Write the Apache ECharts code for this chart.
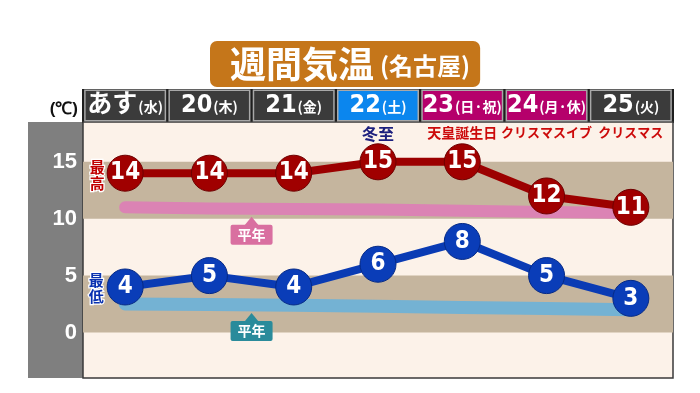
<!DOCTYPE html>
<html><head><meta charset="utf-8">
<script src="https://cdn.jsdelivr.net/npm/echarts@6/dist/echarts.min.js"></script>
<style>html,body{margin:0;padding:0;background:#fff}#c{width:700px;height:393px}</style>
</head><body><div id="c"></div>
<script>
const days = ['あす','20','21','22','23','24','25'];
const weekdays = ['水','木','金','土','日·祝','月·休','火'];
const events = ['','','','冬至','天皇誕生日','クリスマスイブ','クリスマス'];
const highs = [14,14,14,15,15,12,11];
const lows = [4,5,4,6,8,5,3];
const normalHighs = [11.0,10.9,10.85,10.8,10.7,10.6,10.5];
const normalLows = [2.5,2.45,2.4,2.3,2.2,2.1,2.0];
const yTicks = [0,5,10,15];
const bands = [[10,15],[0,5]];
const titleMain = '週間気温';
const titleSub = '(名古屋)';
const normalLabel = '平年';

const JP = "'Noto Sans CJK JP', sans-serif";
const NUM = "'Liberation Sans Narrow', 'DejaVu Sans Condensed', 'Noto Sans CJK JP', sans-serif";

function headerColor(w){
  if (w === '土') return '#0B86EE';
  if (/祝|休|日/.test(w)) return '#B5006B';
  return '#3B3B3B';
}
function eventColor(e){ return e === '冬至' ? '#1C1F7E' : '#CC0A0A'; }

const chart = echarts.init(document.getElementById('c'));
const G = {left:83, right:27, top:122, bottom:15};

const headerData = days.map((d,i)=>({
  value: d,
  textStyle: {backgroundColor: headerColor(weekdays[i])}
}));
const eventData = events.map(e=>({value:e, textStyle:{color:eventColor(e), fontSize: e==='冬至'?16:(/ク/.test(e)?13:14)}}));

const baseGraphic = [
  {type:'rect',shape:{x:28,y:G.top,width:55,height:393-G.top-G.bottom},style:{fill:'#7F7F7F'},z:-1},
  {type:'rect',shape:{x:82,y:89,width:700-G.right-82+1,height:34},style:{fill:'#1e1e1e'},z:-1}
];

chart.setOption({
  animation:false,
  backgroundColor:'#fff',
  title:{
    text:'{a|'+titleMain+'}{b|'+titleSub+'}',
    left:210, top:40,
    backgroundColor:'#C5761A', borderRadius:7,
    padding:[5,10,5,20],
    textStyle:{rich:{
      a:{color:'#fff',fontSize:36,fontWeight:'bold',fontFamily:JP,lineHeight:38},
      b:{color:'#fff',fontSize:24,fontWeight:'bold',fontFamily:JP,lineHeight:38,padding:[4,0,0,6]}
    }}
  },
  graphic:baseGraphic,
  grid:{left:G.left,right:G.right,top:G.top,bottom:G.bottom,show:true,backgroundColor:'#FCF2E9',borderColor:'#3a3a3a',borderWidth:1.5},
  xAxis:[
    {type:'category',position:'top',data:headerData,boundaryGap:true,
     axisLine:{show:false},axisTick:{show:false},
     axisLabel:{interval:0,margin:2,
       width:79,height:29,lineHeight:29,align:'center',
       borderColor:'#A8A8A8',borderWidth:1.5,
       formatter:(v,i)=>'{n|'+v+'}{s|('+weekdays[i]+')}',
       rich:{
         n:{color:'#fff',fontSize:25,fontWeight:'bold',fontFamily:NUM,lineHeight:29},
         s:{color:'#fff',fontSize:14,fontWeight:'bold',fontFamily:JP,lineHeight:29,padding:[3,0,0,1]}
       }
     }},
    {type:'category',position:'top',data:eventData,boundaryGap:true,
     axisLine:{show:false},axisTick:{show:false},
     axisLabel:{inside:true,interval:0,margin:4,fontWeight:'bold',fontFamily:JP,fontSize:14}}
  ],
  yAxis:{type:'value',min:-4,max:18.5,splitNumber:5,
    name:'(℃)',nameLocation:'end',nameGap:13,nameMoveOverlap:false,
    nameTextStyle:{color:'#111',fontSize:17,fontWeight:'bold',fontFamily:"'Liberation Sans', sans-serif",align:'right',verticalAlign:'middle',padding:[0,5,0,0]},
    axisLine:{show:false},axisTick:{show:false},splitLine:{show:false},
    axisLabel:{margin:6,color:'#fff',fontSize:22,fontWeight:'bold',fontFamily:"'Liberation Sans', sans-serif",
      showMinLabel:true,showMaxLabel:true,
      formatter:v=>yTicks.indexOf(v)>=0?String(v):''}
  },
  series:[
    {type:'line',data:[],z:0,silent:true,
     markArea:{silent:true,itemStyle:{color:'#C5B59E'},data:bands.map(b=>[{yAxis:b[0]},{yAxis:b[1]}])}},
    {type:'line',data:normalHighs,z:2,symbol:'none',silent:true,
     lineStyle:{color:'#DB83B4',width:12,cap:'round',join:'round'}},
    {type:'line',data:normalLows,z:2,symbol:'none',silent:true,
     lineStyle:{color:'#74B2D3',width:13,cap:'round',join:'round'}},
    {type:'line',data:highs,z:4,symbol:'circle',symbolSize:36,
     lineStyle:{color:'#9C0000',width:8},
     itemStyle:{color:'#A00000',borderColor:'#6E0000',borderWidth:1},
     label:{show:true,position:'inside',color:'#fff',fontSize:24,fontWeight:'bold',fontFamily:NUM},
     markPoint:{symbol:'circle',symbolSize:1,itemStyle:{color:'transparent'},
       label:{show:true,formatter:'最\n高',offset:[-28,2],color:'#C00000',fontSize:15,lineHeight:16,fontWeight:'bold',fontFamily:JP,textBorderColor:'#fff',textBorderWidth:2.5},
       data:[{coord:[0,highs[0]]}]}},
    {type:'line',data:lows,z:4,symbol:'circle',symbolSize:36,
     lineStyle:{color:'#0A3BB4',width:8},
     itemStyle:{color:'#0A3DB8',borderColor:'#062a86',borderWidth:1},
     label:{show:true,position:'inside',color:'#fff',fontSize:24,fontWeight:'bold',fontFamily:NUM},
     markPoint:{symbol:'circle',symbolSize:1,itemStyle:{color:'transparent'},
       label:{show:true,formatter:'最\n低',offset:[-29,1],color:'#0A32B0',fontSize:15,lineHeight:16,fontWeight:'bold',fontFamily:JP,textBorderColor:'#fff',textBorderWidth:2.5},
       data:[{coord:[0,lows[0]]}]}}
  ]
});

function normalTag(arr, color){
  const a = chart.convertToPixel({gridIndex:0},[1,arr[1]]);
  const b = chart.convertToPixel({gridIndex:0},[2,arr[2]]);
  const x = (a[0]+b[0])/2, y = (a[1]+b[1])/2 + 16;
  return {type:'group',x:x,y:y,z:100,children:[
    {type:'polygon',z:100,shape:{points:[[0,-8],[-7,0.5],[7,0.5]]},style:{fill:color}},
    {type:'rect',z:100,shape:{x:-21,y:0,width:42,height:20,r:2},style:{fill:color}},
    {type:'text',z:101,x:0,y:10,style:{text:normalLabel,fill:'#fff',font:"bold 14px 'Noto Sans CJK JP'",align:'center',verticalAlign:'middle'}}
  ]};
}
chart.setOption({graphic: baseGraphic.concat([
  normalTag(normalHighs,'#D96FA0'),
  normalTag(normalLows,'#2A8B9B')
])});
</script></body></html>
